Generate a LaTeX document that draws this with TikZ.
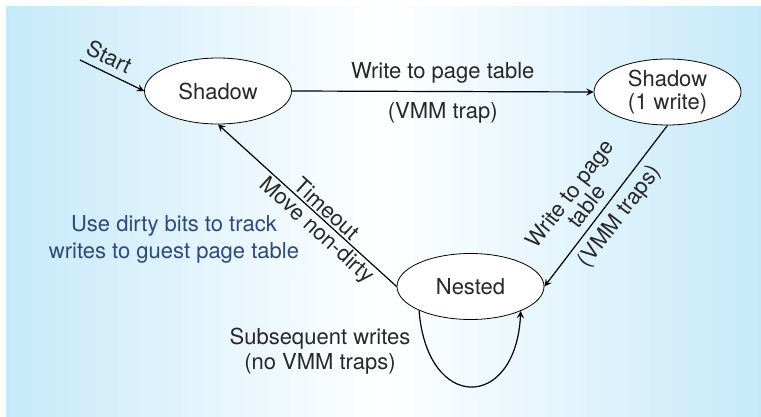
\documentclass[tikz,border=0pt]{standalone}
\usepackage{fontspec}
\setmainfont{TeX Gyre Heros}
\usepackage{xcolor}
\usepackage{tikz}
\usetikzlibrary{shapes.geometric}

\definecolor{panelblue}{RGB}{198,233,249}
\definecolor{notecolor}{RGB}{45,74,122}
\definecolor{inkgray}{RGB}{40,40,40}

\begin{document}
\begin{tikzpicture}[x=0.5pt, y=-0.5pt, >=stealth,
  state/.style={ellipse, draw, fill=white, inner sep=0pt,
                minimum width=73.5pt, minimum height=33pt,
                font=\fontsize{11}{12.5}\selectfont, text=inkgray, align=center},
  lbl/.style={font=\fontsize{11}{12.5}\selectfont, text=inkgray, align=center},
  note/.style={font=\fontsize{11}{13.5}\selectfont, text=notecolor, align=center}]
  \useasboundingbox (0,0) rectangle (761,417);
  \shade[left color=panelblue, right color=panelblue, middle color=white]
    (6,7) rectangle (761,416);
  \node[state] (shadow) at (218,91) {Shadow};
  \node[state] (shadowone) at (667.5,92) {Shadow\\[-1pt](1 write)};
  \node[state] (nested) at (470.5,286.5) {Nested};
  \coordinate (start) at (80,60);
  \node[note] (dirty) at (174,239) {Use dirty bits to track\\writes to guest page table};
  \node[lbl] (subseq) at (320,351) {Subsequent writes\\(no VMM traps)};
  \draw[->, semithick] (start) -- node[lbl, sloped, above, pos=0.35] {Start} (shadow.west);
  \draw[->, semithick] (shadow.east) --
    node[lbl, above=0.5pt] {Write to page table}
    node[lbl, below=2pt] {(VMM trap)} (shadowone.west);
  \draw[->, semithick] (shadowone.south) --
    node[lbl, sloped, above, pos=0.56] {Write to page\\[-2pt]table}
    node[lbl, sloped, below, pos=0.5] {(VMM traps)} (nested.east);
  \draw[->, semithick] (nested.west) --
    node[lbl, sloped, above, pos=0.43, inner sep=1pt] {Timeout}
    node[lbl, sloped, below, pos=0.4, inner sep=1pt] {Move non-dirty} (shadow.south);
  \draw[->, semithick] (nested.205) .. controls +(8,102) and +(-5,100) .. (nested.334);
\end{tikzpicture}
\end{document}
